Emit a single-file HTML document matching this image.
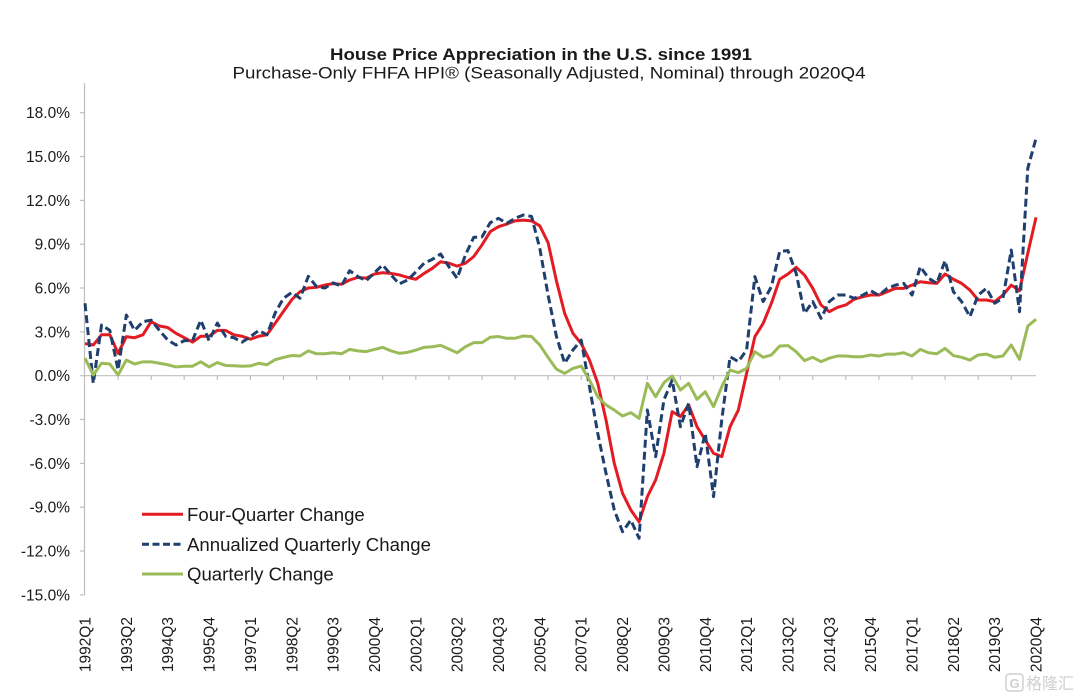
<!DOCTYPE html>
<html>
<head>
<meta charset="utf-8">
<style>
  html,body{margin:0;padding:0;background:#ffffff;}
  body{width:1080px;height:699px;overflow:hidden;}
  svg{display:block;}
  text{font-family:"Liberation Sans","Noto Sans CJK SC",sans-serif;fill:#1a1a1a;}
</style>
</head>
<body>
<svg width="1080" height="699" viewBox="0 0 1080 699" xmlns="http://www.w3.org/2000/svg">
  <rect x="0" y="0" width="1080" height="699" fill="#ffffff"/>

  <!-- Titles -->
  <text x="541" y="60" font-size="16.5" font-weight="bold" text-anchor="middle" textLength="422" lengthAdjust="spacingAndGlyphs">House Price Appreciation in the U.S. since 1991</text>
  <text x="549" y="78.5" font-size="16.5" text-anchor="middle" textLength="633" lengthAdjust="spacingAndGlyphs">Purchase-Only FHFA HPI® (Seasonally Adjusted, Nominal) through 2020Q4</text>

  <!-- Axes -->
  <line x1="84.5" y1="83" x2="84.5" y2="595" stroke="#bfbfbf" stroke-width="1.2"/>
  <line x1="84" y1="375.7" x2="1036" y2="375.7" stroke="#bfbfbf" stroke-width="1.2"/>

  <!-- Y ticks -->
  <g stroke="#bfbfbf" stroke-width="1.2">
    <line x1="80" y1="112.7" x2="84.5" y2="112.7"/>
    <line x1="80" y1="156.5" x2="84.5" y2="156.5"/>
    <line x1="80" y1="200.4" x2="84.5" y2="200.4"/>
    <line x1="80" y1="244.2" x2="84.5" y2="244.2"/>
    <line x1="80" y1="288.0" x2="84.5" y2="288.0"/>
    <line x1="80" y1="331.9" x2="84.5" y2="331.9"/>
    <line x1="80" y1="375.7" x2="84.5" y2="375.7"/>
    <line x1="80" y1="419.5" x2="84.5" y2="419.5"/>
    <line x1="80" y1="463.4" x2="84.5" y2="463.4"/>
    <line x1="80" y1="507.2" x2="84.5" y2="507.2"/>
    <line x1="80" y1="551.0" x2="84.5" y2="551.0"/>
    <line x1="80" y1="594.9" x2="84.5" y2="594.9"/>
  </g>

  <!-- Y labels -->
  <g font-size="15.5" text-anchor="end">
    <text x="70" y="118.2">18.0%</text>
    <text x="70" y="162.0">15.0%</text>
    <text x="70" y="205.9">12.0%</text>
    <text x="70" y="249.7">9.0%</text>
    <text x="70" y="293.5">6.0%</text>
    <text x="70" y="337.4">3.0%</text>
    <text x="70" y="381.2">0.0%</text>
    <text x="70" y="425.0">-3.0%</text>
    <text x="70" y="468.9">-6.0%</text>
    <text x="70" y="512.7">-9.0%</text>
    <text x="70" y="556.5">-12.0%</text>
    <text x="70" y="600.4">-15.0%</text>
  </g>

  <!-- X ticks (every 4 quarters) -->
  <g stroke="#bfbfbf" stroke-width="1.2">
    <line x1="118.1" y1="375.7" x2="118.1" y2="380"/>
    <line x1="151.2" y1="375.7" x2="151.2" y2="380"/>
    <line x1="184.2" y1="375.7" x2="184.2" y2="380"/>
    <line x1="217.3" y1="375.7" x2="217.3" y2="380"/>
    <line x1="250.4" y1="375.7" x2="250.4" y2="380"/>
    <line x1="283.5" y1="375.7" x2="283.5" y2="380"/>
    <line x1="316.6" y1="375.7" x2="316.6" y2="380"/>
    <line x1="349.6" y1="375.7" x2="349.6" y2="380"/>
    <line x1="382.7" y1="375.7" x2="382.7" y2="380"/>
    <line x1="415.8" y1="375.7" x2="415.8" y2="380"/>
    <line x1="448.9" y1="375.7" x2="448.9" y2="380"/>
    <line x1="482.0" y1="375.7" x2="482.0" y2="380"/>
    <line x1="515.0" y1="375.7" x2="515.0" y2="380"/>
    <line x1="548.1" y1="375.7" x2="548.1" y2="380"/>
    <line x1="581.2" y1="375.7" x2="581.2" y2="380"/>
    <line x1="614.3" y1="375.7" x2="614.3" y2="380"/>
    <line x1="647.4" y1="375.7" x2="647.4" y2="380"/>
    <line x1="680.4" y1="375.7" x2="680.4" y2="380"/>
    <line x1="713.5" y1="375.7" x2="713.5" y2="380"/>
    <line x1="746.6" y1="375.7" x2="746.6" y2="380"/>
    <line x1="779.7" y1="375.7" x2="779.7" y2="380"/>
    <line x1="812.8" y1="375.7" x2="812.8" y2="380"/>
    <line x1="845.8" y1="375.7" x2="845.8" y2="380"/>
    <line x1="878.9" y1="375.7" x2="878.9" y2="380"/>
    <line x1="912.0" y1="375.7" x2="912.0" y2="380"/>
    <line x1="945.1" y1="375.7" x2="945.1" y2="380"/>
    <line x1="978.2" y1="375.7" x2="978.2" y2="380"/>
    <line x1="1011.2" y1="375.7" x2="1011.2" y2="380"/>
  </g>

  <!-- Series -->
  <g transform="translate(85,375.7) scale(8.27,-14.61)" fill="none" stroke-linejoin="round">
    <polyline vector-effect="non-scaling-stroke" stroke="#e31b23" stroke-width="3" points="0,2.2 1,2.1 2,2.8 3,2.8 4,1.53 5,2.67 6,2.6 7,2.8 8,3.7 9,3.4 10,3.3 11,2.9 12,2.6 13,2.3 14,2.7 15,2.7 16,3.1 17,3.1 18,2.8 19,2.7 20,2.5 21,2.7 22,2.8 23,3.6 24,4.4 25,5.2 26,5.75 27,6.0 28,6.05 29,6.2 30,6.3 31,6.26 32,6.55 33,6.73 34,6.67 35,6.96 36,7.05 37,7.0 38,6.9 39,6.73 40,6.6 41,7.0 42,7.35 43,7.8 44,7.7 45,7.5 46,7.7 47,8.15 48,8.95 49,9.86 50,10.2 51,10.38 52,10.6 53,10.65 54,10.6 55,10.25 56,9.1 57,6.5 58,4.27 59,2.9 60,2.2 61,1.07 62,-0.52 63,-3.03 64,-6.0 65,-8.05 66,-9.19 67,-10.0 68,-8.28 69,-7.14 70,-5.31 71,-2.46 72,-2.8 73,-2.0 74,-3.49 75,-4.4 76,-5.31 77,-5.54 78,-3.49 79,-2.35 80,0.16 81,2.67 82,3.58 83,4.96 84,6.6 85,6.96 86,7.42 87,6.89 88,5.98 89,4.84 90,4.38 91,4.68 92,4.84 93,5.23 94,5.4 95,5.52 96,5.52 97,5.75 98,5.98 99,5.98 100,6.2 101,6.43 102,6.36 103,6.32 104,6.96 105,6.6 106,6.32 107,5.86 108,5.18 109,5.18 110,5.07 111,5.52 112,6.2 113,5.82 114,8.38 115,10.84"/>
    <polyline vector-effect="non-scaling-stroke" stroke="#1f3f6e" stroke-width="3" stroke-dasharray="8 4" points="0,4.96 1,-0.52 2,3.47 3,3.1 4,0.4 5,4.15 6,3.1 7,3.7 8,3.8 9,3.1 10,2.44 11,2.1 12,2.4 13,2.4 14,3.8 15,2.4 16,3.6 17,2.7 18,2.6 19,2.3 20,2.67 21,3.1 22,2.8 23,4.3 24,5.3 25,5.7 26,5.3 27,6.8 28,6.1 29,6.0 30,6.35 31,6.14 32,7.19 33,6.78 34,6.5 35,7.05 36,7.58 37,6.9 38,6.28 39,6.55 40,7.1 41,7.7 42,7.96 43,8.33 44,7.46 45,6.67 46,8.26 47,9.47 48,9.5 49,10.47 50,10.77 51,10.43 52,10.77 53,11.0 54,10.9 55,8.7 56,5.5 57,2.7 58,0.85 59,1.76 60,2.44 61,-0.75 62,-3.94 63,-6.68 64,-9.19 65,-10.68 66,-9.88 67,-11.13 68,-2.35 69,-5.54 70,-1.66 71,-0.3 72,-3.49 73,-1.89 74,-6.23 75,-3.94 76,-8.28 77,-3.0 78,1.3 79,0.96 80,1.76 81,6.78 82,5.07 83,6.1 84,8.5 85,8.56 86,7.0 87,4.27 88,5.07 89,3.93 90,5.07 91,5.52 92,5.52 93,5.3 94,5.5 95,5.82 96,5.5 97,5.98 98,6.2 99,6.32 100,5.52 101,7.46 102,6.67 103,6.32 104,7.87 105,5.75 106,5.07 107,4.04 108,5.52 109,5.98 110,4.96 111,5.3 112,8.6 113,4.38 114,14.2 115,16.25"/>
    <polyline vector-effect="non-scaling-stroke" stroke="#9bbb59" stroke-width="3" points="0,1.2 1,0.05 2,0.85 3,0.8 4,0.05 5,1.07 6,0.8 7,0.95 8,0.95 9,0.85 10,0.75 11,0.6 12,0.65 13,0.65 14,0.95 15,0.6 16,0.9 17,0.7 18,0.68 19,0.65 20,0.67 21,0.85 22,0.75 23,1.1 24,1.25 25,1.38 26,1.35 27,1.7 28,1.5 29,1.5 30,1.57 31,1.5 32,1.8 33,1.7 34,1.65 35,1.8 36,1.94 37,1.7 38,1.53 39,1.6 40,1.75 41,1.94 42,1.98 43,2.08 44,1.83 45,1.57 46,1.98 47,2.26 48,2.26 49,2.63 50,2.68 51,2.56 52,2.56 53,2.72 54,2.68 55,2.1 56,1.25 57,0.45 58,0.16 59,0.5 60,0.66 61,-0.3 62,-1.44 63,-2.0 64,-2.35 65,-2.76 66,-2.53 67,-2.92 68,-0.52 69,-1.44 70,-0.48 71,-0.02 72,-0.98 73,-0.52 74,-1.62 75,-1.1 76,-2.12 77,-0.75 78,0.39 79,0.21 80,0.5 81,1.64 82,1.26 83,1.42 84,2.03 85,2.06 86,1.64 87,1.03 88,1.26 89,0.96 90,1.2 91,1.35 92,1.35 93,1.3 94,1.3 95,1.42 96,1.35 97,1.48 98,1.48 99,1.57 100,1.35 101,1.8 102,1.57 103,1.5 104,1.87 105,1.38 106,1.26 107,1.07 108,1.42 109,1.48 110,1.26 111,1.35 112,2.1 113,1.12 114,3.4 115,3.86"/>
  </g>

  <!-- Legend -->
  <line x1="142" y1="514.3" x2="183" y2="514.3" stroke="#e31b23" stroke-width="3"/>
  <line x1="142" y1="544.3" x2="183" y2="544.3" stroke="#1f3f6e" stroke-width="3" stroke-dasharray="7 3.5"/>
  <line x1="142" y1="574" x2="183" y2="574" stroke="#9bbb59" stroke-width="3"/>
  <g font-size="18.6">
    <text x="187" y="520.8">Four-Quarter Change</text>
    <text x="187" y="550.8">Annualized Quarterly Change</text>
    <text x="187" y="580.5">Quarterly Change</text>
  </g>

  <!-- X labels -->
  <g font-size="15.5" text-anchor="end">
    <text transform="translate(90.5,617) rotate(-90)">1992Q1</text>
    <text transform="translate(131.9,617) rotate(-90)">1993Q2</text>
    <text transform="translate(173.2,617) rotate(-90)">1994Q3</text>
    <text transform="translate(214.6,617) rotate(-90)">1995Q4</text>
    <text transform="translate(255.9,617) rotate(-90)">1997Q1</text>
    <text transform="translate(297.3,617) rotate(-90)">1998Q2</text>
    <text transform="translate(338.6,617) rotate(-90)">1999Q3</text>
    <text transform="translate(380.0,617) rotate(-90)">2000Q4</text>
    <text transform="translate(421.3,617) rotate(-90)">2002Q1</text>
    <text transform="translate(462.7,617) rotate(-90)">2003Q2</text>
    <text transform="translate(504.0,617) rotate(-90)">2004Q3</text>
    <text transform="translate(545.4,617) rotate(-90)">2005Q4</text>
    <text transform="translate(586.7,617) rotate(-90)">2007Q1</text>
    <text transform="translate(628.1,617) rotate(-90)">2008Q2</text>
    <text transform="translate(669.4,617) rotate(-90)">2009Q3</text>
    <text transform="translate(710.8,617) rotate(-90)">2010Q4</text>
    <text transform="translate(752.1,617) rotate(-90)">2012Q1</text>
    <text transform="translate(793.5,617) rotate(-90)">2013Q2</text>
    <text transform="translate(834.8,617) rotate(-90)">2014Q3</text>
    <text transform="translate(876.2,617) rotate(-90)">2015Q4</text>
    <text transform="translate(917.5,617) rotate(-90)">2017Q1</text>
    <text transform="translate(958.9,617) rotate(-90)">2018Q2</text>
    <text transform="translate(1000.2,617) rotate(-90)">2019Q3</text>
    <text transform="translate(1041.6,617) rotate(-90)">2020Q4</text>
  </g>

  <!-- Watermark -->
  <rect x="1006" y="674" width="17" height="17" rx="3" fill="none" stroke="#cfcfcf" stroke-width="1.5"/>
  <text x="1014.5" y="688" font-size="13" font-weight="bold" text-anchor="middle" style="fill:#cfcfcf">G</text>
  <text x="1026" y="689" font-size="16" style="fill:#cfcfcf;font-family:'Liberation Sans','Noto Sans CJK SC',sans-serif">格隆汇</text>
</svg>
</body>
</html>
